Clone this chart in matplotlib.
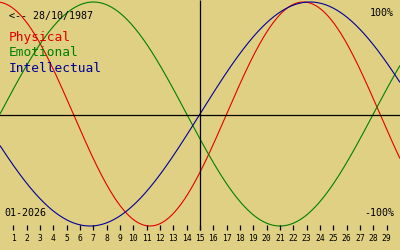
import datetime as dt
import numpy as np
import matplotlib
matplotlib.use("Agg")
import matplotlib.pyplot as plt

# ---- data ----
birth_date = "28/10/1987"
month_label = "01-2026"
cycle_names = ["Physical", "Emotional", "Intellectual"]
cycle_lengths = [23, 28, 33]
cycle_colors = ["#e00000", "#008000", "#000098"]
day_ticks = list(range(1, 30))
today_day = 15
pct_labels = ["100%", "-100%"]

BG = "#e0d084"
W, H = 400, 250

fig = plt.figure(figsize=(W / 100, H / 100), dpi=100, facecolor=BG)
ax = fig.add_axes([0, 0, 1, 1], facecolor=BG)
ax.set_axis_off()

def py2v(p):
    return (114 - p) / 112.0

ax.set_xlim(0, 30)
ax.set_ylim(py2v(H), py2v(0))

b = dt.datetime.strptime(birth_date, "%d/%m/%Y").date()
m, y = month_label.split("-")
start = dt.date(int(y), int(m), 1)
t0 = (start - b).days

days = np.linspace(0, 30, 1200)
for name, L, c in zip(cycle_names, cycle_lengths, cycle_colors):
    vals = np.sin(2 * np.pi * (t0 + days - 1) / L)
    ax.plot(days, vals, color=c, lw=0.8, solid_capstyle="butt")

# axes lines
ax.axhline(py2v(115), color="black", lw=0.9)
ax.vlines(today_day, py2v(230), py2v(0), color="black", lw=0.9)
ax.vlines(day_ticks, py2v(230), py2v(225), color="black", lw=0.9)

def ftxt(x, yp, s, **kw):
    fig.text(x / W, 1 - yp / H, s, family="DejaVu Sans Mono", **kw)

for d in day_ticks:
    ax.text(d, py2v(238), str(d), ha="center", va="center",
            family="DejaVu Sans Mono", fontsize=5.8, color="black")

ftxt(9, 16, "<-- " + birth_date, fontsize=7.2, va="center", ha="left", color="black")
for i, (name, c) in enumerate(zip(cycle_names, cycle_colors)):
    ftxt(9, 38 + 15 * i, name, fontsize=9.3, va="center", ha="left", color=c)
ftxt(394, 13, pct_labels[0], fontsize=7.2, va="center", ha="right", color="black")
ftxt(394, 213, pct_labels[1], fontsize=7.2, va="center", ha="right", color="black")
ftxt(4, 213, month_label, fontsize=7.2, va="center", ha="left", color="black")

fig.savefig("out.png", dpi=100, facecolor=BG)
